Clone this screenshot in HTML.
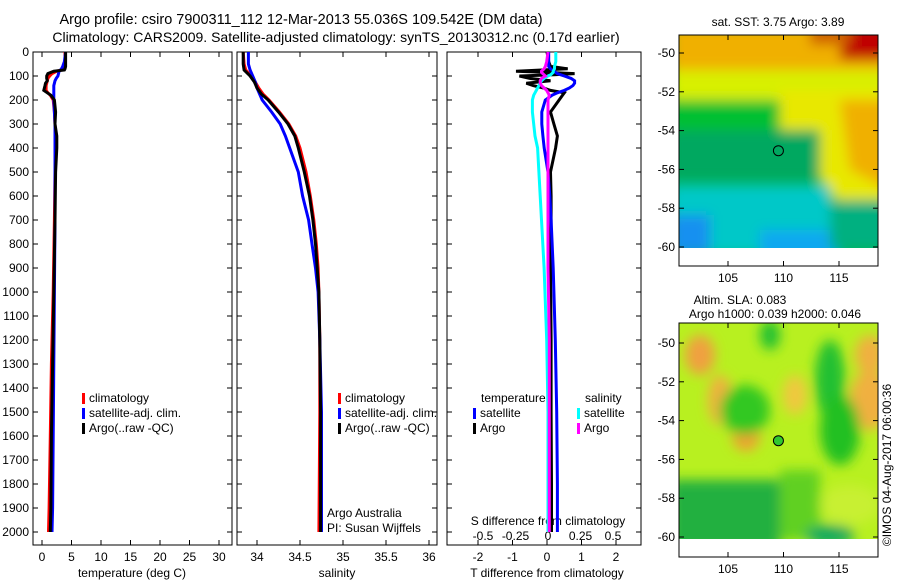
<!DOCTYPE html>
<html><head><meta charset="utf-8"><style>
body{margin:0;background:#fff;}
svg{display:block;font-family:"Liberation Sans",sans-serif;}
</style></head><body>
<svg id="c" width="900" height="580" viewBox="0 0 900 580">
<defs>
<filter id="bl" filterUnits="userSpaceOnUse" x="640" y="0" width="260" height="580"><feGaussianBlur stdDeviation="6"/></filter>
<clipPath id="cm1"><rect x="679" y="35" width="199" height="213"/></clipPath>
<clipPath id="cm2"><rect x="679" y="323" width="199" height="216"/></clipPath>
</defs>
<text x="301" y="24" text-anchor="middle" font-size="14.5">Argo profile: csiro 7900311_112 12-Mar-2013 55.036S 109.542E (DM data)</text>
<text x="336" y="42" text-anchor="middle" font-size="14">Climatology: CARS2009. Satellite-adjusted climatology: synTS_20130312.nc (0.17d earlier)</text>

<g clip-path="url(#cm1)">
<rect x="679" y="35" width="199" height="213" fill="#00b848"/>
<g filter="url(#bl)">
<rect x="670" y="25" width="220" height="60" fill="#f0b000"/>
<rect x="670" y="70" width="220" height="30" fill="#d8f000"/>
<polygon points="780,90 890,90 890,200 840,205 820,180 790,150 770,110" fill="#e8e800"/>
<polygon points="840,100 890,100 890,190 850,170" fill="#f0b000"/>
<rect x="840" y="25" width="50" height="35" fill="#c00000"/>
<rect x="810" y="25" width="40" height="20" fill="#d06000"/>
<rect x="670" y="100" width="110" height="30" fill="#00c030"/>
<rect x="670" y="130" width="150" height="50" fill="#00a860"/>
<rect x="670" y="185" width="160" height="70" fill="#00c8c8"/>
<rect x="670" y="215" width="40" height="40" fill="#1890f0"/>
<rect x="760" y="230" width="80" height="30" fill="#10a8f0"/>
<rect x="830" y="200" width="60" height="50" fill="#00b080"/>
</g>
<rect x="679" y="248" width="199" height="18" fill="#fff"/>
</g>
<g clip-path="url(#cm2)">
<rect x="679" y="323" width="199" height="216" fill="#b8f020"/>
<g filter="url(#bl)">
<ellipse cx="700" cy="355" rx="15" ry="20" fill="#f0a040"/>
<ellipse cx="720" cy="400" rx="12" ry="25" fill="#f0b040"/>
<ellipse cx="746" cy="435" rx="14" ry="16" fill="#f0a030"/>
<ellipse cx="870" cy="400" rx="20" ry="30" fill="#f0b040"/>
<ellipse cx="870" cy="355" rx="15" ry="20" fill="#f0b040"/>
<ellipse cx="795" cy="395" rx="12" ry="20" fill="#f0c840"/>
<ellipse cx="745" cy="410" rx="25" ry="25" fill="#30c820"/>
<ellipse cx="830" cy="380" rx="15" ry="40" fill="#20c030"/>
<ellipse cx="770" cy="335" rx="10" ry="15" fill="#20c030"/>
<ellipse cx="840" cy="430" rx="20" ry="35" fill="#20c020"/>
<rect x="670" y="480" width="110" height="70" fill="#20b040"/>
<rect x="780" y="470" width="40" height="70" fill="#60d020"/>
<ellipse cx="850" cy="505" rx="30" ry="20" fill="#c8f030"/>
<ellipse cx="830" cy="535" rx="25" ry="10" fill="#10a860"/>
</g>
<rect x="679" y="539" width="199" height="20" fill="#fff"/>
</g>
<text x="778" y="26" text-anchor="middle" font-size="12">sat. SST: 3.75 Argo: 3.89</text>
<text x="740" y="304" text-anchor="middle" font-size="12">Altim. SLA: 0.083</text>
<text x="775" y="318" text-anchor="middle" font-size="12">Argo h1000: 0.039 h2000: 0.046</text>
<text transform="translate(891,465) rotate(-90)" text-anchor="middle" font-size="12">©IMOS 04-Aug-2017 06:00:36</text>
<g id="ax"></g>
</svg>
<script>
const depthT=[0,20,40,60,70,75,80,90,100,110,120,130,140,150,160,170,180,200,250,300,350,400,500,700,1000,1300,1600,1900,2000];
const argoT=[4.0,4.0,4.0,4.0,3.9,3.8,2.0,1.0,0.8,0.8,0.9,0.6,0.5,0.4,0.3,0.9,1.5,2.1,2.3,2.2,2.5,2.5,2.3,2.2,2.0,1.8,1.6,1.5,1.4];
const climT=[3.9,3.9,3.9,3.8,3.6,3.3,2.5,1.7,1.3,1.0,0.9,0.8,0.7,0.7,0.7,1.0,1.4,1.9,2.1,2.2,2.3,2.3,2.2,2.1,1.9,1.6,1.4,1.2,1.1];
const satT=[4.0,3.9,3.8,3.5,3.3,3.1,2.9,2.8,2.7,2.4,2.2,2.1,2.0,2.0,2.0,2.0,2.0,2.0,2.1,2.2,2.2,2.2,2.2,2.2,2.1,2.0,1.9,1.8,1.7];
const depthS=[0,50,75,100,125,150,175,200,250,300,350,400,500,600,700,800,900,1000,1200,1500,2000];
const argoS=[33.84,33.84,33.85,33.92,33.97,34.0,34.05,34.13,34.25,34.36,34.44,34.48,34.55,34.61,34.65,34.68,34.70,34.72,34.73,34.74,34.74];
const climS=[33.84,33.85,33.87,33.93,33.98,34.02,34.07,34.14,34.26,34.37,34.45,34.50,34.57,34.62,34.66,34.69,34.71,34.72,34.73,34.73,34.72];
const satS=[33.9,33.9,33.92,33.95,33.98,34.0,34.03,34.06,34.17,34.27,34.33,34.38,34.48,34.53,34.6,34.64,34.68,34.71,34.73,34.75,34.75];
const depthD=[0,40,60,70,80,85,90,95,100,110,120,130,140,150,160,170,180,200,250,300,350,400,500,600,700,900,1200,1500,1800,2000];
const argoDT=[0.0,0.05,0.1,0.6,-0.9,0.0,0.8,0.2,-0.8,-0.5,0.1,-0.6,-0.4,-0.1,0.1,0.5,0.45,0.35,0.1,0.2,0.3,0.25,0.1,0.12,0.12,0.1,0.12,0.12,0.13,0.13];
const satDT=[0.05,0.05,0.05,0.1,0.2,0.25,0.3,0.4,0.5,0.7,0.8,0.8,0.75,0.65,0.5,0.3,0.15,-0.05,-0.15,-0.15,-0.12,-0.08,0.03,0.08,0.12,0.18,0.24,0.28,0.3,0.3];
const argoDS=[0.0,-0.01,-0.02,-0.03,-0.05,-0.05,-0.04,-0.03,-0.02,-0.05,-0.06,-0.06,-0.05,-0.03,-0.01,0.0,0.01,0.0,0.0,0.0,0.0,0.0,0.0,0.0,0.0,0.0,0.01,0.01,0.01,0.01];
const satDS=[0.06,0.06,0.05,0.05,0.04,0.04,0.03,0.02,0.0,-0.03,-0.05,-0.06,-0.07,-0.08,-0.09,-0.1,-0.11,-0.12,-0.12,-0.11,-0.1,-0.08,-0.07,-0.06,-0.05,-0.03,-0.01,0.0,0.0,0.0];
const depthTicks=[0,100,200,300,400,500,600,700,800,900,1000,1100,1200,1300,1400,1500,1600,1700,1800,1900,2000];
const tTicks=[0,5,10,15,20,25,30];
const sTicks=[34,34.5,35,35.5,36];
const dtTicks=[-2,-1,0,1,2];
const dsTicks=[-0.5,-0.25,0,0.25,0.5];
const latTicks=[-50,-52,-54,-56,-58,-60];
const lonTicks=[105,110,115];

const NS='http://www.w3.org/2000/svg';
const g=document.getElementById('ax');
function el(t,a,p){const e=document.createElementNS(NS,t);for(const k in a)e.setAttribute(k,a[k]);(p||g).appendChild(e);return e;}
const TOP=52,BOT=545;
const yD=d=>52+d*0.24;
const xT=v=>42+v*5.9;
const xS=v=>257+(v-34)*86;
const xDT=v=>547+v*34.5;
const xDS=v=>548+v*130;
function line(xs,ds,xf,col,name,w){
  const pts=xs.map((v,i)=>xf(v).toFixed(1)+','+yD(ds[i]).toFixed(1)).join(' ');
  const p=el('polyline',{points:pts,fill:'none',stroke:col,'stroke-width':w||3});
  
  
}
function box(x0,x1,name){
  const r=el('rect',{x:x0,y:TOP,width:x1-x0,height:BOT-TOP,fill:'none',stroke:'#000','stroke-width':1});
  
  
}
function text(x,y,s,anchor,name,size){
  const t=el('text',{x:x,y:y,'text-anchor':anchor||'start','font-size':size||12});
  t.textContent=s;
  
  
  return t;
}
box(33,232,'temperature-panel');box(237,437,'salinity-panel');box(447,641,'difference-panel');
depthTicks.forEach(d=>{
  const y=yD(d);
  el('line',{x1:33,x2:38,y1:y,y2:y,stroke:'#000'});el('line',{x1:227,x2:232,y1:y,y2:y,stroke:'#000'});
  el('line',{x1:237,x2:242,y1:y,y2:y,stroke:'#000'});el('line',{x1:432,x2:437,y1:y,y2:y,stroke:'#000'});
  el('line',{x1:447,x2:452,y1:y,y2:y,stroke:'#000'});el('line',{x1:636,x2:641,y1:y,y2:y,stroke:'#000'});
  text(29,y+4,String(d),'end','depth-tick-label');
});
function xt(x){el('line',{x1:x,x2:x,y1:TOP,y2:TOP+5,stroke:'#000'});el('line',{x1:x,x2:x,y1:BOT-5,y2:BOT,stroke:'#000'});}
tTicks.forEach(v=>{const x=xT(v);xt(x);text(x,561,String(v),'middle','temp-tick-label');});
sTicks.forEach(v=>{const x=xS(v);xt(x);text(x,561,String(v),'middle','sal-tick-label');});
dtTicks.forEach(v=>{const x=xDT(v);xt(x);text(x,561,String(v),'middle','tdiff-tick-label');});
dsTicks.forEach(v=>{text(xDS(v),540,String(v),'middle','sdiff-tick-label');});
text(132,577,'temperature (deg C)','middle','temp-axis-title');
text(337,577,'salinity','middle','sal-axis-title');
text(547,577,'T difference from climatology','middle','tdiff-axis-title');
text(548,525,'S difference from climatology','middle','sdiff-axis-title');
text(327,517,'Argo Australia','start','credit-line-1');
text(327,532,'PI: Susan Wijffels','start','credit-line-2');
line(climT,depthT,xT,'#f00','temp-climatology-line');
line(satT,depthT,xT,'#00f','temp-satellite-line');
line(argoT,depthT,xT,'#000','temp-argo-line');
line(climS,depthS,xS,'#f00','sal-climatology-line');
line(satS,depthS,xS,'#00f','sal-satellite-line');
line(argoS,depthS,xS,'#000','sal-argo-line');
line(argoDT,depthD,xDT,'#000','tdiff-argo-line');
line(satDT,depthD,xDT,'#00f','tdiff-satellite-line');
line(satDS,depthD,xDS,'#0ff','sdiff-satellite-line');
line(argoDS,depthD,xDS,'#f0f','sdiff-argo-line');
function leg(x,y,col,label,name){
  const r=el('rect',{x:x,y:y-9,width:3,height:11,fill:col});
  
  
  text(x+7,y,label,'start',name);
}
leg(82,402,'#f00','climatology','legend-climatology');leg(82,417,'#00f','satellite-adj. clim.','legend-satellite');leg(82,432,'#000','Argo(..raw -QC)','legend-argo');
leg(338,402,'#f00','climatology','legend-sal-climatology');leg(338,417,'#00f','satellite-adj. clim.','legend-sal-satellite');leg(338,432,'#000','Argo(..raw -QC)','legend-sal-argo');
text(481,402,'temperature','start','legend-temperature-heading');
text(585,402,'salinity','start','legend-salinity-heading');
leg(473,417,'#00f','satellite','legend-tdiff-satellite');leg(473,432,'#000','Argo','legend-tdiff-argo');
leg(577,417,'#0ff','satellite','legend-sdiff-satellite');leg(577,432,'#f0f','Argo','legend-sdiff-argo');
function mapAxes(top,bottom,lat50,name){
  const r=el('rect',{x:679,y:top,width:199,height:bottom-top,fill:'none',stroke:'#000'});
  
  
  latTicks.forEach(v=>{const y=lat50+(-50-v)*19.4;el('line',{x1:679,x2:684,y1:y,y2:y,stroke:'#000'});el('line',{x1:873,x2:878,y1:y,y2:y,stroke:'#000'});text(675,y+4,String(v),'end',name+'-lat-label');});
  lonTicks.forEach(v=>{const x=728+(v-105)*11.1;el('line',{x1:x,x2:x,y1:top,y2:top+5,stroke:'#000'});el('line',{x1:x,x2:x,y1:bottom-5,y2:bottom,stroke:'#000'});text(x,bottom+16,String(v),'middle',name+'-lon-label');});
  const c=el('circle',{cx:728+(109.542-105)*11.1,cy:lat50+5.036*19.4,r:5,fill:name==='sla-map'?'#30c830':'none',stroke:'#000'});
  
  
}
mapAxes(35,266,53,'sst-map');
mapAxes(323,557,343,'sla-map');
</script>
</body></html>
